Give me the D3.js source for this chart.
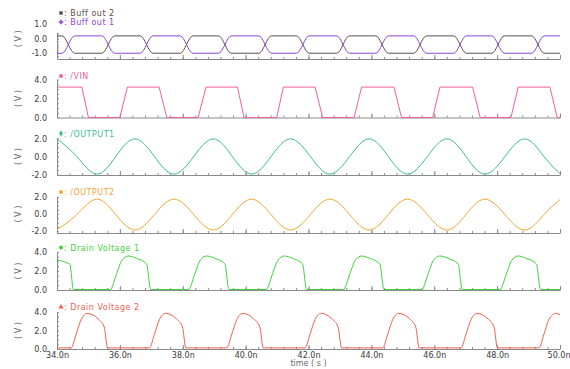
<!DOCTYPE html>
<html>
<head>
<meta charset="utf-8">
<script src="https://cdn.jsdelivr.net/npm/d3@7"></script>
<style>
  body { margin: 0; background: #fff; }
  svg { display: block; }
  text { font-family: "DejaVu Sans", sans-serif; }
</style>
</head>
<body>
<svg id="chart" width="570" height="369"></svg>
<script>
// time axis (ns)
const timeTicks = [34, 36, 38, 40, 42, 44, 46, 48, 50];

// Buff out 1 / Buff out 2 (complementary)
const buffTimes = [34.00, 34.16, 34.56, 35.43, 35.83, 36.65, 37.05, 37.92, 38.32, 39.14, 39.54, 40.42, 40.82, 41.62,
  42.02, 42.90, 43.30, 44.14, 44.54, 45.35, 45.75, 46.62, 47.02, 47.83, 48.23, 49.10, 49.50, 50.00];
const buff1Values = [-1.0, -1.0, 0.2, 0.2, -1.0, -1.0, 0.2, 0.2, -1.0, -1.0, 0.2, 0.2, -1.0, -1.0,
  0.2, 0.2, -1.0, -1.0, 0.2, 0.2, -1.0, -1.0, 0.2, 0.2, -1.0, -1.0, 0.2, 0.2];
const buff2Values = [0.2, 0.2, -1.0, -1.0, 0.2, 0.2, -1.0, -1.0, 0.2, 0.2, -1.0, -1.0, 0.2, 0.2,
  -1.0, -1.0, 0.2, 0.2, -1.0, -1.0, 0.2, 0.2, -1.0, -1.0, 0.2, 0.2, -1.0, -1.0];

// /VIN
const vinTimes = [34.00, 34.79, 35.00, 36.00, 36.24, 37.25, 37.49, 38.49, 38.74, 39.74, 39.95, 40.99, 41.20, 42.21,
  42.45, 43.45, 43.69, 44.72, 44.96, 45.95, 46.18, 47.22, 47.46, 48.44, 48.67, 49.68, 49.91, 50.00];
const vinValues = [3.2, 3.2, 0, 0, 3.2, 3.2, 0, 0, 3.2, 3.2, 0, 0, 3.2, 3.2,
  0, 0, 3.2, 3.2, 0, 0, 3.2, 3.2, 0, 0, 3.2, 3.2, 0, 0];

// /OUTPUT1 and /OUTPUT2 (peaks, zero crossings, troughs)
const outTimes = [34.00, 34.63, 35.26, 35.87, 36.48, 37.10, 37.72, 38.35, 38.97, 39.58, 40.19, 40.81, 41.43, 42.06,
  42.68, 43.31, 43.93, 44.54, 45.15, 45.78, 46.40, 47.01, 47.61, 48.25, 48.89, 49.49, 50.00];
const out1Values = [1.95, 0, -1.95, 0, 1.95, 0, -1.95, 0, 1.95, 0, -1.95, 0, 1.95, 0,
  -1.95, 0, 1.95, 0, -1.95, 0, 1.95, 0, -1.95, 0, 1.95, 0, -1.9];
const out2Values = [-1.8, -0.05, 1.75, -0.05, -1.85, -0.05, 1.75, -0.05, -1.85, -0.05, 1.75, -0.05, -1.85, -0.05,
  1.75, -0.05, -1.85, -0.05, 1.75, -0.05, -1.85, -0.05, 1.75, -0.05, -1.85, -0.05, 1.7];

// Drain Voltage 1
const drain1Times = [34.00, 34.41, 34.52,
  35.69, 35.90, 36.06, 36.27, 36.53, 36.85, 36.98,
  38.18, 38.39, 38.55, 38.76, 39.02, 39.34, 39.47,
  40.65, 40.86, 41.02, 41.23, 41.49, 41.81, 41.94,
  43.11, 43.32, 43.48, 43.69, 43.95, 44.27, 44.40,
  45.60, 45.81, 45.97, 46.18, 46.44, 46.76, 46.89,
  48.09, 48.30, 48.46, 48.67, 48.93, 49.25, 49.38,
  50.00];
const drain1Values = [3.15, 2.7, 0.05,
  0.05, 1.75, 3.1, 3.58, 3.33, 2.74, 0.05,
  0.05, 1.75, 3.1, 3.58, 3.33, 2.74, 0.05,
  0.05, 1.75, 3.1, 3.58, 3.33, 2.74, 0.05,
  0.05, 1.75, 3.1, 3.58, 3.33, 2.74, 0.05,
  0.05, 1.75, 3.1, 3.58, 3.33, 2.74, 0.05,
  0.05, 1.75, 3.1, 3.58, 3.33, 2.74, 0.05,
  0.05];

// Drain Voltage 2
const drain2Times = [34.00,
  34.45, 34.61, 34.77, 34.96, 35.31, 35.50, 35.61,
  36.94, 37.10, 37.26, 37.45, 37.80, 37.99, 38.10,
  39.40, 39.56, 39.72, 39.91, 40.26, 40.45, 40.56,
  41.89, 42.05, 42.21, 42.40, 42.75, 42.94, 43.05,
  44.36, 44.52, 44.68, 44.87, 45.22, 45.41, 45.52,
  46.85, 47.01, 47.17, 47.36, 47.71, 47.90, 48.01,
  49.33, 49.49, 49.65, 49.87, 50.00];
const drain2Values = [0.12,
  0.12, 1.6, 3.2, 3.85, 3.25, 2.4, 0.12,
  0.12, 1.6, 3.2, 3.85, 3.25, 2.4, 0.12,
  0.12, 1.6, 3.2, 3.85, 3.25, 2.4, 0.12,
  0.12, 1.6, 3.2, 3.85, 3.25, 2.4, 0.12,
  0.12, 1.6, 3.2, 3.85, 3.25, 2.4, 0.12,
  0.12, 1.6, 3.2, 3.85, 3.25, 2.4, 0.12,
  0.12, 1.6, 3.2, 3.85, 3.7];

const svg = d3.select('#chart');
const left = 57, right = 560;

const x = d3.scaleLinear().domain([34, 50]).range([left, right]);

const panels = [
  { top: 33, bottom: 59, domain: [-1.4, 0.4], ticks: [1, 0, -1], minorStep: 0.2,
    series: [
      { name: 'Buff out 2', color: '#5a5050', symbol: d3.symbolSquare, times: buffTimes, values: buff2Values, legendY: 16 },
      { name: 'Buff out 1', color: '#8c45dc', symbol: d3.symbolCross, times: buffTimes, values: buff1Values, legendY: 25 }
    ], curve: d3.curveMonotoneX },
  { top: 79.5, bottom: 117.5, domain: [0, 4], ticks: [4, 2, 0], minorStep: 0.5,
    series: [{ name: '/VIN', color: '#f2609c', symbol: d3.symbolCircle, times: vinTimes, values: vinValues, legendY: 79 }],
    curve: d3.curveLinear },
  { top: 138, bottom: 175, domain: [-2.05, 2.05], ticks: [2, 0, -2], minorStep: 0.5,
    series: [{ name: '/OUTPUT1', color: '#3cbf8c', symbol: d3.symbolDiamond, times: outTimes, values: out1Values, legendY: 136.5 }],
    curve: d3.curveNatural },
  { top: 197, bottom: 233, domain: [-2.2, 2.0], ticks: [2, 0, -2], minorStep: 0.5,
    series: [{ name: '/OUTPUT2', color: '#f4a634', symbol: d3.symbolSquare, times: outTimes, values: out2Values, legendY: 195 }],
    curve: d3.curveNatural },
  { top: 252, bottom: 290, domain: [0, 4], ticks: [4, 2, 0], minorStep: 0.5,
    series: [{ name: 'Drain Voltage 1', color: '#3fd23a', symbol: d3.symbolCircle, times: drain1Times, values: drain1Values, legendY: 250.5 }],
    curve: d3.curveMonotoneX },
  { top: 312, bottom: 349, domain: [0, 4], ticks: [4, 2, 0], minorStep: 0.5,
    series: [{ name: 'Drain Voltage 2', color: '#f2604e', symbol: d3.symbolTriangle, times: drain2Times, values: drain2Values, legendY: 310 }],
    curve: d3.curveMonotoneX }
];

const minorTimes = d3.range(34, 50.001, 0.4);

panels.forEach((p, i) => {
  const y = d3.scaleLinear().domain(p.domain).range([p.bottom, p.top]);
  const g = svg.append('g');

  // left axis: line + inner minor ticks
  const minorV = d3.range(Math.ceil(p.domain[0] / p.minorStep) * p.minorStep, p.domain[1] + 1e-9, p.minorStep);
  g.append('g')
    .attr('transform', `translate(${left},0)`)
    .call(d3.axisRight(y).tickValues(minorV).tickSize(2).tickSizeOuter(0).tickFormat(''))
    .call(a => a.selectAll('line,path').attr('stroke', '#8a8a8a'));

  // left tick labels
  g.append('g')
    .attr('transform', `translate(${left},0)`)
    .call(d3.axisLeft(y).tickValues(p.ticks).tickSize(0).tickPadding(10).tickFormat(d => d.toFixed(1)))
    .call(a => a.select('.domain').remove())
    .call(a => a.selectAll('text').attr('font-size', 8).attr('fill', '#3a3a3a')
      .attr('font-family', '"DejaVu Sans", sans-serif'));

  // bottom axis: minor + major ticks pointing up
  g.append('g')
    .attr('transform', `translate(0,${p.bottom})`)
    .call(d3.axisTop(x).tickValues(minorTimes).tickSize(2).tickSizeOuter(0).tickFormat(''))
    .call(a => a.selectAll('line,path').attr('stroke', '#8a8a8a'));
  g.append('g')
    .attr('transform', `translate(0,${p.bottom})`)
    .call(d3.axisTop(x).tickValues(timeTicks).tickSize(4).tickFormat(''))
    .call(a => a.select('.domain').remove())
    .call(a => a.selectAll('line').attr('stroke', '#8a8a8a'));

  // y title
  const yMid = (y(p.ticks[0]) + y(p.ticks[p.ticks.length - 1])) / 2;
  g.append('text')
    .attr('transform', `translate(21,${yMid}) rotate(-90)`)
    .attr('text-anchor', 'middle')
    .attr('font-size', 8)
    .attr('fill', '#6a6a6a')
    .text('( V )');

  p.series.forEach(s => {
    const pts = s.times.map((t, k) => [t, s.values[k]]);
    const line = d3.line().x(d => x(d[0])).y(d => y(d[1])).curve(p.curve);
    g.append('path')
      .attr('d', line(pts))
      .attr('fill', 'none')
      .attr('stroke', s.color)
      .attr('stroke-width', 1);

    // legend
    g.append('path')
      .attr('d', d3.symbol().type(s.symbol).size(12)())
      .attr('transform', `translate(61,${s.legendY - 3})`)
      .attr('fill', s.color);
    g.append('text')
      .attr('x', 64)
      .attr('y', s.legendY)
      .attr('font-size', 8)
      .attr('letter-spacing', 0.5)
      .attr('fill', s.color)
      .text(': ' + s.name);
  });

  // time labels on last panel
  if (i === panels.length - 1) {
    g.append('g')
      .attr('transform', `translate(0,${p.bottom})`)
      .call(d3.axisBottom(x).tickValues(timeTicks).tickSize(0).tickPadding(3).tickFormat(d => d.toFixed(1) + 'n'))
      .call(a => a.select('.domain').remove())
      .call(a => a.selectAll('text').attr('font-size', 8).attr('fill', '#3a3a3a')
        .attr('font-family', '"DejaVu Sans", sans-serif'))
      .call(a => a.selectAll('.tick').filter(d => d === 50).select('text')
        .attr('text-anchor', 'end').attr('dx', 10));
    g.append('text')
      .attr('x', (left + right) / 2)
      .attr('y', 366)
      .attr('text-anchor', 'middle')
      .attr('font-size', 8)
      .attr('fill', '#6a6a6a')
      .text('time ( s )');
  }
});
</script>
</body>
</html>
